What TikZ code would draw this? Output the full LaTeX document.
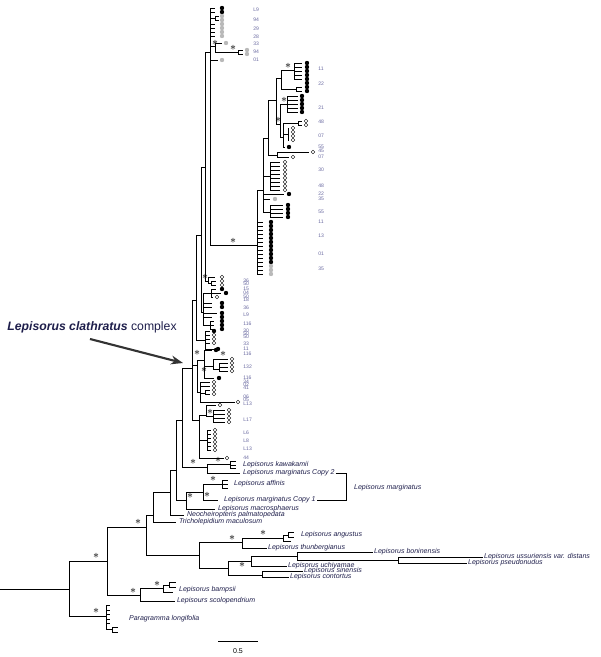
\documentclass[tikz,border=0pt]{standalone}
\usepackage{fontspec}
\setmainfont{Liberation Sans}
\usetikzlibrary{arrows.meta}

\definecolor{spnavy}{RGB}{30,30,75}
\definecolor{popblue}{RGB}{105,105,160}

\tikzset{
  pop/.style={circle, inner sep=0pt, minimum size=1.1mm, fill=#1},
  popo/.style={circle, draw=black, fill=white, line width=0.3pt, inner sep=0pt, minimum size=0.95mm},
  supp/.style={inner sep=0pt, font=\fontsize{8}{8}\selectfont},
  sp/.style={anchor=west, inner sep=0.5pt, text=spnavy, font=\fontsize{5}{5}\selectfont\itshape},
  nr/.style={anchor=west, inner sep=0pt, text=popblue, font=\fontsize{3.6}{3.6}\selectfont},
}

\begin{document}
\begin{tikzpicture}[x=0.25mm, y=-0.25mm, line width=0.55pt]
\useasboundingbox (0,0) rectangle (600,657);

% backbone
\coordinate (root) at (0,589);
\coordinate (n69) at (69,589);
\coordinate (n107) at (107,561);
\coordinate (para) at (106,616);
\coordinate (n146) at (146,527);
\coordinate (n140) at (140,595);
\coordinate (n153) at (153,515);
\coordinate (n199) at (199,555);
\draw (root) -- (n69);
\draw (n69) |- (n107);
\draw (n69) |- (para);
\draw (n107) |- (n146);
\draw (n107) |- (n140);
\draw (n146) |- (n153);
\draw (n146) |- (n199);

% bampsii, scolopendrium
\coordinate (n163) at (163,588);
\coordinate (bsub) at (169,585);
\coordinate (scol) at (175,601);
\draw (n140) |- (n163);
\draw (n140) |- (scol);
\draw (n163) |- (bsub);
\draw (n163) |- (173,592);
\draw (bsub) |- (176,582);
\draw (bsub) |- (176,587);
\node[sp] at (178,590) {Lepisorus bampsii};
\node[sp] at (176,601) {Lepisours scolopendrium};

% Paragramma
\foreach \y in {605,610,614,619,623} \draw (para) |- (110,\y);
\coordinate (psub) at (112,629);
\draw (para) |- (psub);
\draw (psub) |- (118,627);
\draw (psub) |- (118,632);
\node[sp] at (128,619) {Paragramma longifolia};

% angustus / thunbergianus
\coordinate (n242) at (242,542);
\coordinate (n228) at (228,568);
\coordinate (n283) at (283,538);
\coordinate (asub) at (288,535);
\coordinate (thun) at (267,548);
\draw (n199) |- (n242);
\draw (n199) |- (n228);
\draw (n242) |- (n283);
\draw (n242) |- (thun);
\draw (n283) |- (asub);
\draw (n283) |- (291,541);
\draw (asub) |- (294,532);
\draw (asub) |- (294,537);
\node[sp] at (300,535) {Lepisorus angustus};
\node[sp] at (thun) {Lepisorus thunbergianus};

% boninensis and the rest
\coordinate (n251) at (251,561);
\coordinate (n262) at (262,575);
\coordinate (n297) at (297,556);
\coordinate (n398) at (398,560);
\coordinate (bonin) at (373,552);
\coordinate (uchi) at (287,566);
\coordinate (ussu) at (483,557);
\coordinate (pseu) at (467,563);
\coordinate (sine) at (303,571);
\coordinate (cont) at (289,577);
\draw (n228) |- (n251);
\draw (n228) |- (n262);
\draw (n251) |- (n297);
\draw (n251) |- (uchi);
\draw (n297) |- (bonin);
\draw (n297) |- (n398);
\draw (n398) |- (ussu);
\draw (n398) |- (pseu);
\draw (n262) |- (sine);
\draw (n262) |- (cont);
\node[sp] at (bonin) {Lepisorus boninensis};
\node[sp] at (uchi) {Lepisorus uchiyamae};
\node[sp] at (ussu) {Lepisorus ussuriensis var. distans};
\node[sp] at (pseu) {Lepisorus pseudonudus};
\node[sp] at (sine) {Lepisorus sinensis};
\node[sp] at (cont) {Lepisorus contortus};

% Tricholepidium .. kawakamii
\coordinate (n170) at (170,492);
\coordinate (trich) at (176,522);
\coordinate (n176) at (176,470);
\coordinate (neoch) at (184,515);
\coordinate (n182) at (182,420);
\coordinate (n186) at (186,500);
\coordinate (n192) at (192,368);
\coordinate (n207) at (207,467);
\coordinate (n203) at (203,492);
\coordinate (macro) at (215,509);
\coordinate (n222) at (222,484);
\coordinate (marg1) at (218,500);
\coordinate (n230) at (230,464);
\coordinate (marg2) at (240,473);
\draw (n153) |- (n170);
\draw (n153) |- (trich);
\draw (n170) |- (n176);
\draw (n170) |- (neoch);
\draw (n176) |- (n182);
\draw (n176) |- (n186);
\draw (n182) |- (n192);
\draw (n182) |- (n207);
\draw (n186) |- (n203);
\draw (n186) |- (macro);
\draw (n203) |- (n222);
\draw (n203) |- (marg1);
\draw (n207) |- (n230);
\draw (n207) |- (marg2);
\foreach \y in {480,484,488} \draw (n222) |- (228,\y);
\foreach \y in {461,465,468} \draw (n230) |- (236,\y);
\node[sp] at (178,522) {Tricholepidium maculosum};
\node[sp] at (186,515) {Neocheiropteris palmatopedata};
\node[sp] at (217,509) {Lepisorus macrosphaerus};
\node[sp] at (223,500) (m1) {Lepisorus marginatus Copy 1};
\node[sp] at (233,484) {Lepisorus affinis};
\node[sp] at (242,465) {Lepisorus kawakamii};
\node[sp] at (242,473) (m2) {Lepisorus marginatus Copy 2};
\draw (m2.east) -- ++(11,0) |- (m1.east);
\node[sp] at (353,488) {Lepisorus marginatus};

% clathratus complex
\coordinate (n196) at (196,300);
\coordinate (n197) at (197,365);
\coordinate (n199c) at (199,420);
\coordinate (n201) at (201,235);
\coordinate (n205c) at (205,340);
\coordinate (n205) at (205,167);
\coordinate (n203b) at (203,312);
\coordinate (n210) at (210,52);
\coordinate (n208) at (208,281);
\draw (n192) |- (n196);
\draw (n192) |- (n197);
\draw (n192) |- (n199c);
\draw (n196) |- (n201);
\draw (n196) |- (n205c);
\draw (n201) |- (n205);
\draw (n201) |- (n203b);
\draw (n205) |- (n210);
\draw (n205) |- (n208);

% top cluster
\foreach \y in {8,12,24,28,32,36} \draw (n210) |- (215,\y);
\coordinate (rsub) at (215,18);
\draw (n210) |- (rsub);
\draw (rsub) |- (219,16);
\draw (rsub) |- (219,20);
\coordinate (n215) at (215,46);
\coordinate (n238) at (238,52);
\draw (n210) |- (n215);
\draw (n215) |- (222,43);
\draw (n215) |- (n238);
\draw (n238) |- (243,50);
\draw (n238) |- (243,54);
\draw (n210) |- (218,60);
\foreach \y/\c in {8/black,12/black,16/gray!55,20/gray!55,24/gray!55,28/gray!55,32/gray!55,36/gray!55}
  \node[pop=\c] at (222,\y) {};
\node[pop=gray!55] at (226,43) {};
\node[pop=gray!55] at (247,50) {};
\node[pop=gray!55] at (247,54) {};
\node[pop=gray!55] at (222,60) {};
\foreach \y/\t in {10/L9,20/94,29/29,37/28,44/33,52/94,60/01}
  \node[nr] at (253,\y) {\t};

% middle clade
\coordinate (n257) at (257,245);
\coordinate (n263) at (263,190);
\coordinate (n268) at (268,138);
\coordinate (n270a) at (270,176);
\coordinate (n270b) at (270,212);
\coordinate (n276) at (276,100);
\coordinate (n277) at (277,155);
\coordinate (n281) at (281,78);
\coordinate (n280) at (280,124);
\coordinate (n294) at (294,70);
\coordinate (n296) at (296,89);
\coordinate (n287) at (287,104);
\coordinate (n283z) at (283,137);
\coordinate (n298) at (298,123);
\coordinate (n288) at (288,134);
\draw (n210) |- (n257);
\draw (n257) |- (n263);
\foreach \y in {222,226,...,274} \draw (n257) |- (263,\y);
\foreach \y in {222,226,...,262} \node[pop=black] at (271,\y) {};
\foreach \y in {266,270,274} \node[pop=gray!55] at (271,\y) {};
\draw (n263) |- (n268);
\draw (n263) |- (n270a);
\draw (n263) |- (284,194);
\draw (n263) |- (270,199);
\draw (n263) |- (n270b);
\foreach \y in {162,166,...,190} {\draw (n270a) |- (280,\y); \node[popo] at (285,\y) {};}
\node[pop=black] at (289,194) {};
\node[pop=gray!55] at (275,199) {};
\foreach \y in {205,209,213,217} {\draw (n270b) |- (283,\y); \node[pop=black] at (288,\y) {};}
\draw (n268) |- (n276);
\draw (n268) |- (n277);
\draw (n277) |- (309,152);
\draw (n277) |- (289,157);
\node[popo] at (313,152) {};
\node[popo] at (293,157) {};
\draw (n276) |- (n281);
\draw (n276) |- (n280);
\draw (n281) |- (n294);
\draw (n281) |- (n296);
\foreach \y in {63,67,71,75,79} \draw (n294) |- (302,\y);
\foreach \y in {87,91} \draw (n296) |- (302,\y);
\foreach \y in {63,67,71,75,79,83,87,91} \node[pop=black] at (307,\y) {};
\draw (n280) |- (n287);
\draw (n280) |- (n283z);
\foreach \y in {96,100,104,108,112} {\draw (n287) |- (298,\y); \node[pop=black] at (302,\y) {};}
\draw (n283z) |- (n298);
\draw (n283z) |- (n288);
\draw (n283z) |- (285,147);
\node[pop=black] at (289,147) {};
\foreach \y in {121,125} {\draw (n298) |- (302,\y); \node[popo] at (306,\y) {};}
\foreach \y in {128,132,136,140} {\draw (n288) |- (289,\y); \node[popo] at (293,\y) {};}
\foreach \y/\t in {69/11,84/22,108/21,122/48,136/07,147/55,151/45,157/07,170/30,186/48,194/22,199/35,212/55,222/11,236/13,254/01,269/35}
  \node[nr] at (318,\y) {\t};

% lower part of the complex
\coordinate (n211) at (211,283);
\draw (n208) |- (215,277);
\draw (n208) |- (n211);
\draw (n211) |- (216,281);
\draw (n211) |- (216,285);
\foreach \y in {277,281,285} \node[popo] at (222,\y) {};
\coordinate (n211b) at (211,293);
\coordinate (n210b) at (210,325);
\draw (n203b) |- (n211b);
\draw (n211b) |- (216,289);
\draw (n211b) |- (221,293);
\draw (n211b) |- (213,297);
\node[pop=black] at (222,289) {};
\node[pop=black] at (226,293) {};
\node[popo] at (217,297) {};
\foreach \y in {303,307,317} \draw (n203b) |- (212,\y);
\draw (n203b) |- (217,313);
\draw (n203b) |- (n210b);
\foreach \y in {321,325,329} \draw (n210b) |- (214,\y);
\foreach \y in {303,307,313,317,321,325,329} \node[pop=black] at (222,\y) {};
\foreach \y in {331,335,339,343} \draw (n205c) |- (210,\y);
\draw (n205c) |- (214,349);
\node[pop=black] at (214,331) {};
\foreach \y in {335,339,343} \node[popo] at (214,\y) {};
\node[pop=black] at (218,349) {};
\coordinate (n204) at (204,360);
\coordinate (n200) at (200,392);
\coordinate (n213) at (213,366);
\coordinate (n219) at (219,369);
\draw (n197) |- (n204);
\draw (n197) |- (n200);
\draw (n204) |- (212,350);
\draw (n204) |- (n213);
\draw (n204) |- (214,378);
\node[pop=black] at (216,350) {};
\node[pop=black] at (219,378) {};
\draw (n213) |- (228,359);
\draw (n213) |- (n219);
\foreach \y in {363,367,371} \draw (n219) |- (228,\y);
\foreach \y in {359,363,367,371} \node[popo] at (232,\y) {};
\coordinate (n205e) at (205,393);
\draw (n200) |- (210,382);
\draw (n200) |- (210,386);
\draw (n200) |- (n205e);
\draw (n205e) |- (210,390);
\draw (n205e) |- (210,394);
\draw (n200) |- (235,402);
\foreach \y in {382,386,390,394} \node[popo] at (214,\y) {};
\node[popo] at (238,402) {};
\coordinate (n206) at (206,415);
\coordinate (n213f) at (213,416);
\coordinate (n207g) at (207,440);
\draw (n199c) |- (n206);
\draw (n199c) |- (n207g);
\draw (n199c) |- (224,458);
\node[popo] at (227,458) {};
\draw (n206) |- (216,405);
\node[popo] at (220,405) {};
\draw (n206) |- (n213f);
\foreach \y in {410,414,418,422} {\draw (n213f) |- (225,\y); \node[popo] at (229,\y) {};}
\foreach \y in {430,434,438,442,446,450} {\draw (n207g) |- (211,\y); \node[popo] at (215,\y) {};}
\foreach \y/\t in {281/36,284/50,289/15,293/04,297/50,300/18,308/36,315/L9,324/116,331/30,334/50,337/50,344/33,349/11,354/116,367/132,378/116,382/34,385/02,388/41,397/06,400/05,404/L13,420/L17,433/L6,441/L8,449/L13,458/44}
  \node[nr] at (243,\y) {\t};

% support stars
\foreach \x/\y in {96/556,96/611,138/522,133/591,157/584,232/538,263/533,242/565,
  193/462,218/460,213/479,207/495,190/496,197/353,204/370,210/412,223/354,
  205/277,215/43,233/48,233/241,288/66,284/100,278/120}
  \node[supp] at (\x,\y) {$\ast$};

% label and arrow
\node[anchor=west, inner sep=0pt, text=spnavy, font=\fontsize{8.7}{9}\selectfont] (ttl) at (7,327)
  {\textbf{\textit{Lepisorus clathratus}} complex};
\coordinate (astart) at (90,339);
\coordinate (cplx) at (183,363);
\draw[-{Stealth[length=3mm,width=2.2mm]}, line width=1.5pt, black!80] (astart) -- (cplx);

% scale bar
\coordinate (sb1) at (218,641);
\coordinate (sb2) at (258,641);
\draw (sb1) -- (sb2) node[midway, below=1.5pt, font=\fontsize{5}{5}\selectfont] {0.5};

\end{tikzpicture}
\end{document}
